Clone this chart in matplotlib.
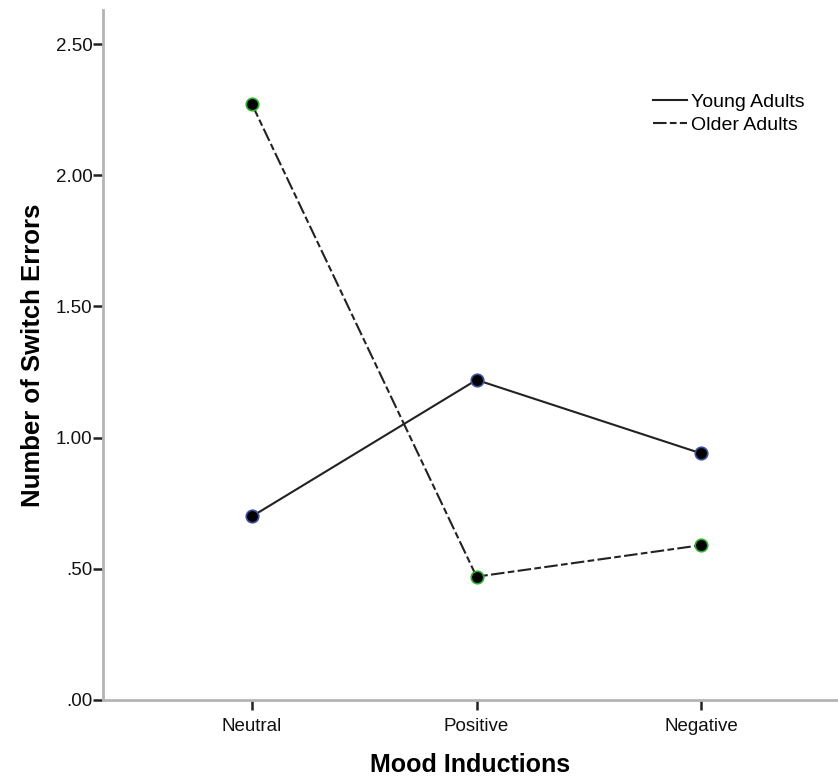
import matplotlib.pyplot as plt
from matplotlib.ticker import FuncFormatter

plt.rcParams['font.family'] = ['Liberation Sans', 'DejaVu Sans']

moods = ["Neutral", "Positive", "Negative"]
young = [0.70, 1.22, 0.94]
older = [2.27, 0.47, 0.59]

fig = plt.figure(figsize=(8.38, 7.8), dpi=100)
ax = fig.add_axes([0.1229, 0.1026, 0.8771, 0.8846])

x = range(len(moods))
ax.plot(x, young, "-", color="#222222", lw=1.5, label="Young Adults",
        marker="o", ms=9, mfc="black", mec="#3a4fa0", mew=1.2)
ax.plot(x, older, "--", color="#222222", lw=1.5, dashes=(6.5, 1.6, 3.2, 1.6),
        label="Older Adults",
        marker="o", ms=9, mfc="black", mec="#2fb02f", mew=1.2)

ax.set_xlim(-0.664, 2.61)
ax.set_ylim(0, 2.63)
ax.set_xticks(list(x))
ax.set_xticklabels(moods)
ax.set_yticks([0, 0.5, 1.0, 1.5, 2.0, 2.5])
ax.yaxis.set_major_formatter(
    FuncFormatter(lambda v, p: f"{v:.2f}".lstrip("0") if v < 1 else f"{v:.2f}"))

for s in ["top", "right"]:
    ax.spines[s].set_visible(False)
for s in ["left", "bottom"]:
    ax.spines[s].set_color("#b4b4b4")
    ax.spines[s].set_linewidth(2)
ax.tick_params(axis="y", length=7, width=1.8, color="#222222", labelsize=13.5,
               labelcolor="#111111", pad=0.5)
ax.tick_params(axis="x", length=7, width=1.8, color="#222222", labelsize=13.5,
               labelcolor="#111111", pad=6)

ax.set_xlabel("Mood Inductions", fontsize=18, fontweight="bold", labelpad=13)
ax.set_ylabel("Number of Switch Errors", fontsize=18.5, fontweight="bold",
              labelpad=8)

leg = ax.legend(loc="upper left", bbox_to_anchor=(0.738, 0.89), frameon=False,
                fontsize=14, handlelength=1.75, handletextpad=0.2,
                labelspacing=0.25, borderaxespad=0)
for h in leg.legend_handles:
    h.set_marker("")

fig.savefig("out.png", dpi=100)
